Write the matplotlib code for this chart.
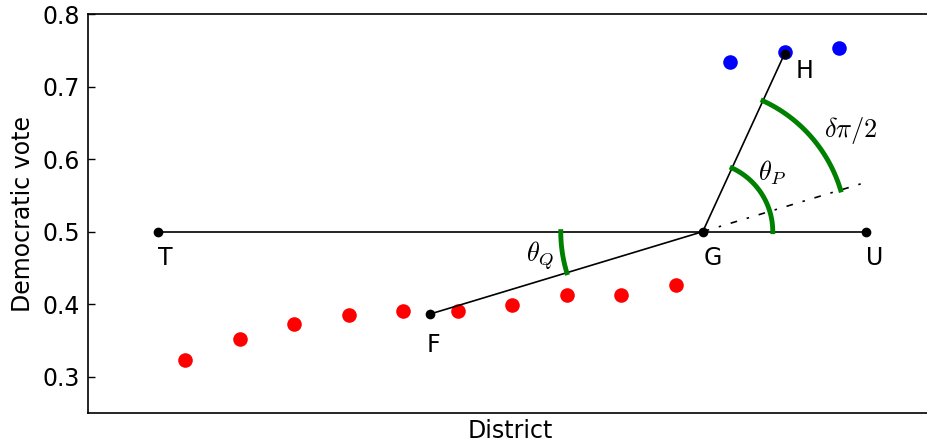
import numpy as np
import matplotlib
matplotlib.use('Agg')
import matplotlib.pyplot as plt

# vote share per district, sorted
red_votes = [0.323, 0.352, 0.372, 0.385, 0.391, 0.391, 0.399, 0.412, 0.413, 0.427]
blue_votes = [0.734, 0.748, 0.753]

plt.rcParams['mathtext.fontset'] = 'cm'
plt.rcParams['font.size'] = 17
plt.rcParams['axes.linewidth'] = 1.2


def arc_points(ax, center, radius, a0, a1):
    # circle in pixel space, mapped back to data coords
    cx, cy = ax.transData.transform(center)
    t = np.linspace(a0, a1, 80)
    pts = np.column_stack([cx + radius * np.cos(t), cy + radius * np.sin(t)])
    return ax.transData.inverted().transform(pts)


n_red = len(red_votes)
n = n_red + len(blue_votes)
red_x = np.arange(1, n_red + 1)
blue_x = np.arange(n_red + 1, n + 1)

T = (0.5, 0.5)
U = (n + 0.5, 0.5)
G = (n_red + 0.5, 0.5)
F = (red_x.mean(), np.mean(red_votes))
H = (blue_x.mean(), np.mean(blue_votes))

fig = plt.figure(figsize=(9.27, 4.47), dpi=100)
ax = fig.add_axes([88 / 927, 34 / 447, 845 / 927, 399 / 447])
ax.set_xlim(-0.78, -0.78 + 845 / 54.5)
ax.set_ylim(0.25, 0.8)
ax.set_xticks([])
ax.set_yticks([0.3, 0.4, 0.5, 0.6, 0.7, 0.8])
ax.tick_params(axis='y', direction='in', length=5, width=1, labelsize=17, right=False, pad=6)
ax.set_xlabel('District', fontsize=17)
ax.set_ylabel('Democratic vote', fontsize=17, labelpad=5)

ax.plot(red_x, red_votes, 'o', color='red', markersize=10.5, markeredgewidth=0)
ax.plot(blue_x, blue_votes, 'o', color='blue', markersize=10.5, markeredgewidth=0)

ax.plot([T[0], U[0]], [T[1], U[1]], 'k-', lw=1.2)
ax.plot([F[0], G[0]], [F[1], G[1]], 'k-', lw=1.2)
ax.plot([G[0], H[0]], [G[1], H[1]], 'k-', lw=1.2)

# extension of F-G past G
slope = (G[1] - F[1]) / (G[0] - F[0])
ax.plot([G[0], U[0]], [G[1], G[1] + slope * (U[0] - G[0])], color='k',
        lw=1.2, linestyle=(0, (4, 6, 1.5, 6)))

ax.plot([T[0], U[0], G[0], F[0], H[0]], [T[1], U[1], G[1], F[1], H[1]],
        'o', color='black', markersize=7, markeredgewidth=0)

# angles in pixel space
gx, gy = ax.transData.transform(G)
fx, fy = ax.transData.transform(F)
hx, hy = ax.transData.transform(H)
ext = np.arctan2(gy - fy, gx - fx)
up = np.arctan2(hy - gy, hx - gx)

for r, a0, a1 in [(142, np.pi, np.pi + ext), (70, 0, up), (144, ext, up)]:
    pts = arc_points(ax, G, r, a0, a1)
    ax.plot(pts[:, 0], pts[:, 1], color='green', lw=3.5)

ax.text(0.63, 0.464, 'T', ha='center', va='center')
ax.text(10.68, 0.464, 'G', ha='center', va='center')
ax.text(13.66, 0.464, 'U', ha='center', va='center')
ax.text(5.55, 0.344, 'F', ha='center', va='center')
ax.text(12.36, 0.721, 'H', ha='center', va='center')
ax.text(7.51, 0.467, r'$\theta_Q$', ha='center', va='center', fontsize=19)
ax.text(11.77, 0.581, r'$\theta_P$', ha='center', va='center', fontsize=19)
ax.text(13.22, 0.639, r'$\delta\pi/2$', ha='center', va='center', fontsize=19)

fig.savefig('out.png', dpi=100)
